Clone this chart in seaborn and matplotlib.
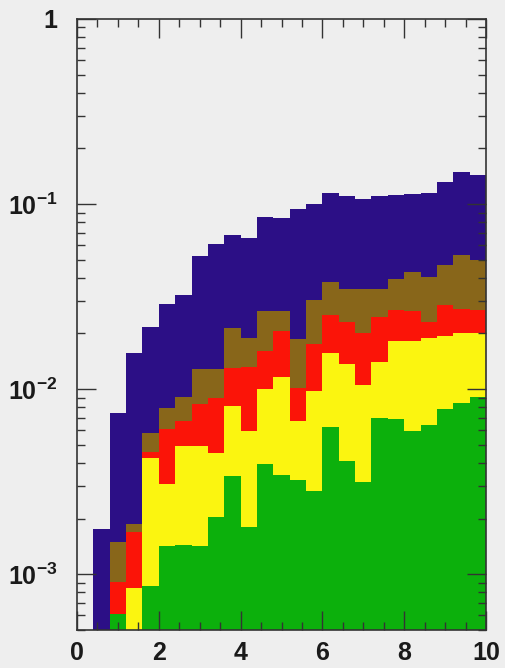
import numpy as np
import pandas as pd
import matplotlib
matplotlib.use("Agg")
import matplotlib.pyplot as plt
import seaborn as sns
from matplotlib.ticker import FixedLocator, FixedFormatter, LogLocator, NullFormatter, MultipleLocator

# ---- data (bin centres, bin width 0.4) ----
bin_centers = [0.2, 0.6, 1.0, 1.4, 1.8, 2.2, 2.6, 3.0, 3.4, 3.8, 4.2, 4.6, 5.0,
               5.4, 5.8, 6.2, 6.6, 7.0, 7.4, 7.8, 8.2, 8.6, 9.0, 9.4, 9.8]
bin_edges = [0.0, 0.4, 0.8, 1.2, 1.6, 2.0, 2.4, 2.8, 3.2, 3.6, 4.0, 4.4, 4.8, 5.2,
             5.6, 6.0, 6.4, 6.8, 7.2, 7.6, 8.0, 8.4, 8.8, 9.2, 9.6, 10.0]

green = [0, 0, 6.1e-4, 0, 8.6e-4, 1.43e-3, 1.44e-3, 1.42e-3, 2.03e-3, 3.41e-3,
         1.8e-3, 3.95e-3, 3.45e-3, 3.24e-3, 2.83e-3, 6.25e-3, 4.1e-3, 3.16e-3,
         6.98e-3, 6.86e-3, 5.94e-3, 6.44e-3, 7.8e-3, 8.43e-3, 9.06e-3]
yellow = [0, 0, 0, 8.4e-4, 3.41e-3, 1.64e-3, 3.5e-3, 3.52e-3, 2.5e-3, 4.69e-3,
          4.14e-3, 6.05e-3, 8.25e-3, 3.49e-3, 6.93e-3, 9.35e-3, 9.5e-3, 7.44e-3,
          7.12e-3, 1.124e-2, 1.216e-2, 1.236e-2, 1.15e-2, 1.157e-2, 1.094e-2]
red = [0, 0, 3.0e-4, 8.5e-4, 2.8e-4, 3.0e-3, 1.79e-3, 3.36e-3, 4.45e-3, 4.9e-3,
       7.16e-3, 6.0e-3, 8.8e-3, 3.37e-3, 7.74e-3, 9.7e-3, 9.6e-3, 9.4e-3,
       1.06e-2, 8.8e-3, 8.2e-3, 4.4e-3, 9.3e-3, 7.2e-3, 6.9e-3]
brown = [0, 0, 5.8e-4, 1.9e-4, 1.27e-3, 1.86e-3, 2.33e-3, 4.5e-3, 3.82e-3, 8.4e-3,
         5.7e-3, 1.03e-2, 5.8e-3, 8.5e-3, 1.30e-2, 1.28e-2, 1.17e-2, 1.49e-2,
         1.02e-2, 1.26e-2, 1.68e-2, 1.73e-2, 1.84e-2, 2.6e-2, 2.31e-2]
navy = [0, 1.75e-3, 5.94e-3, 1.39e-2, 1.58e-2, 2.11e-2, 2.33e-2, 3.97e-2, 4.81e-2,
        4.67e-2, 4.68e-2, 5.88e-2, 5.78e-2, 7.54e-2, 6.95e-2, 7.69e-2, 7.55e-2,
        7.15e-2, 7.55e-2, 7.22e-2, 7.01e-2, 7.41e-2, 8.43e-2, 9.54e-2, 9.32e-2]

components = ["navy", "brown", "red", "yellow", "green"]  # top -> bottom
colors = {"navy": "#2c0f86", "brown": "#88661a", "red": "#fb1408",
          "yellow": "#fbf510", "green": "#0cb00c"}

x_ticks = [0, 2, 4, 6, 8, 10]
x_ticklabels = ["0", "2", "4", "6", "8", "10"]
y_ticks = [1e-3, 1e-2, 1e-1, 1]
y_ticklabels = [r"$\mathbf{10^{-3}}$", r"$\mathbf{10^{-2}}$", r"$\mathbf{10^{-1}}$", "1"]

series = {"navy": navy, "brown": brown, "red": red, "yellow": yellow, "green": green}
rows = []
for name in components:
    for xc, w in zip(bin_centers, series[name]):
        rows.append({"x": xc, "w": w, "comp": name})
df = pd.DataFrame(rows)

# ---- style ----
sns.set_theme(style="ticks")
plt.rcParams["font.family"] = ["Liberation Sans", "DejaVu Sans"]
plt.rcParams["font.weight"] = "bold"
plt.rcParams["mathtext.fontset"] = "custom"
plt.rcParams["mathtext.bf"] = "Liberation Sans:bold"
plt.rcParams["mathtext.rm"] = "Liberation Sans:bold"

bg = "#eeeeee"
fig = plt.figure(figsize=(5.05, 6.68), dpi=100, facecolor=bg)
ax = fig.add_axes([77 / 505, 1 - 630 / 668, (486 - 77) / 505, (630 - 19) / 668])
ax.set_facecolor(bg)
ax.set_yscale("log")

sns.histplot(data=df, x="x", weights="w", hue="comp", hue_order=components,
             multiple="stack", bins=bin_edges, element="step", fill=True,
             alpha=1, linewidth=0, palette=colors, legend=False, ax=ax,
             antialiased=False)

ax.set_xlim(0, 10)
ax.set_ylim(5e-4, 1)
ax.set_xlabel("")
ax.set_ylabel("")

ax.xaxis.set_major_locator(FixedLocator(x_ticks))
ax.xaxis.set_major_formatter(FixedFormatter(x_ticklabels))
ax.xaxis.set_minor_locator(MultipleLocator(0.5))
ax.yaxis.set_major_locator(FixedLocator(y_ticks))
ax.yaxis.set_major_formatter(FixedFormatter(y_ticklabels))
ax.yaxis.set_minor_locator(LogLocator(base=10, subs=np.arange(2, 10), numticks=20))
ax.yaxis.set_minor_formatter(NullFormatter())

ax.tick_params(which="both", direction="in", top=True, right=True,
               color="#333333", width=1.0)
ax.tick_params(which="major", length=14, labelsize=18)
ax.tick_params(which="minor", length=6)
ax.tick_params(axis="x", which="major", pad=8)
ax.tick_params(axis="y", which="major", pad=14)
for s in ax.spines.values():
    s.set_color("#333333")
    s.set_linewidth(1.2)
ax.set_axisbelow(False)
for lab in ax.get_xticklabels() + ax.get_yticklabels():
    lab.set_fontweight("bold")
    lab.set_color("#1a1a1a")

fig.savefig("out.png", dpi=100, facecolor=bg)
